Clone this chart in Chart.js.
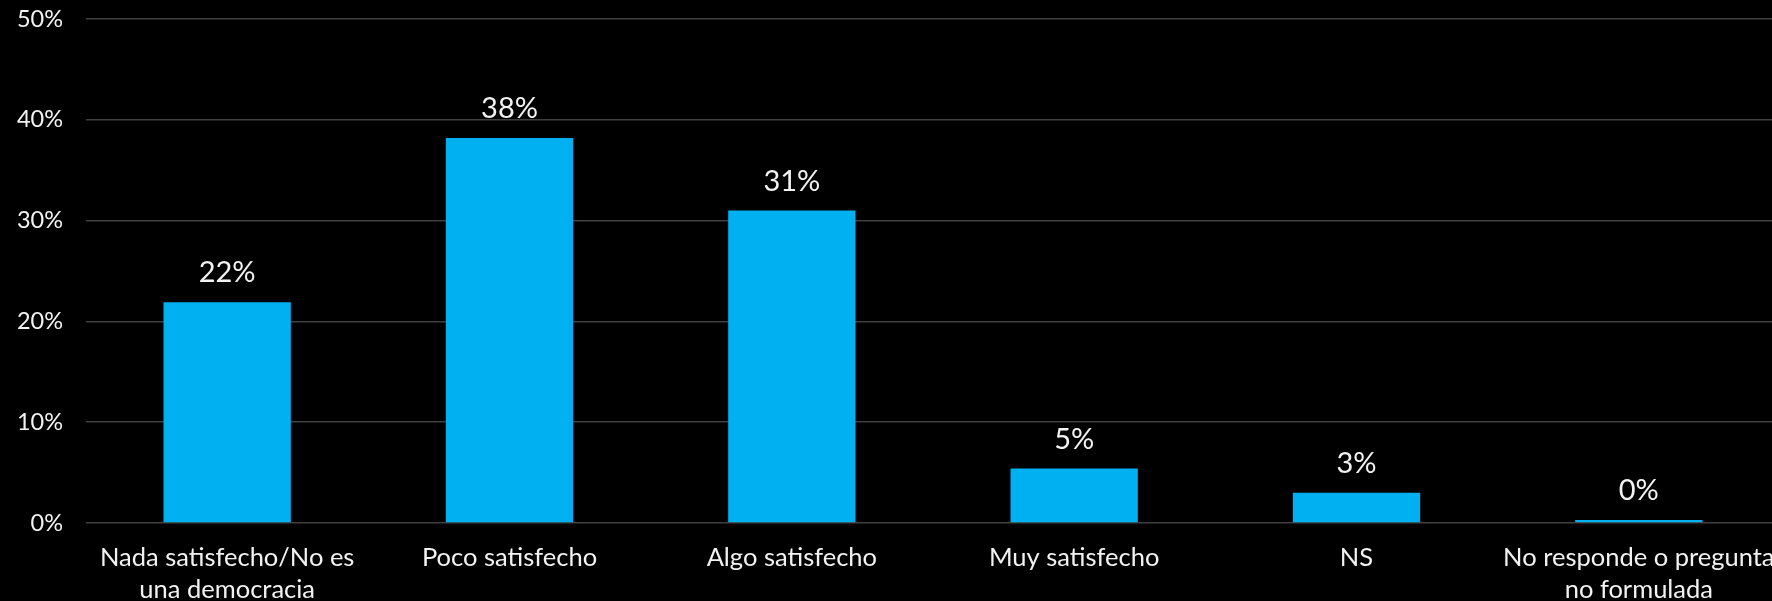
<!DOCTYPE html>
<html>
<head>
<meta charset="utf-8">
<script src="https://cdn.jsdelivr.net/npm/chart.js@4.4.1/dist/chart.umd.min.js"></script>
<style>
  html, body { margin: 0; padding: 0; background: #000; overflow: hidden; }
  #wrap { width: 1772px; height: 601px; }
</style>
</head>
<body>
<div id="wrap"><canvas id="satChart" width="1772" height="601"></canvas></div>
<script>
/* Satisfacción con la democracia */
const categories = [
  ["Nada satisfecho/No es", "una democracia"],
  "Poco satisfecho",
  "Algo satisfecho",
  "Muy satisfecho",
  "NS",
  ["No responde o pregunta", "no formulada"]
];
const values = [21.9, 38.2, 31.0, 5.4, 3.0, 0.3];
const valueLabels = ["22%", "38%", "31%", "5%", "3%", "0%"];
const yTicks = [0, 10, 20, 30, 40, 50];

const FONT = "Lato, 'Open Sans', sans-serif";
const TEXT = "#f2f2f2";
const OVERHANG = 8; // plot runs a little past the right edge, like the original slide

/* stretch the plot past the canvas edge */
const overhang = {
  id: "overhang",
  afterLayout(chart) {
    const x = chart.scales.x;
    chart.chartArea.right += OVERHANG;
    chart.chartArea.width += OVERHANG;
    x.right += OVERHANG;
    x.width += OVERHANG;
    x.configure();
  }
};

/* labels above bars */
const barLabels = {
  id: "barLabels",
  afterDatasetsDraw(chart) {
    const { ctx } = chart;
    const meta = chart.getDatasetMeta(0);
    ctx.save();
    ctx.font = "29px " + FONT;
    ctx.fillStyle = TEXT;
    ctx.textAlign = "center";
    ctx.textBaseline = "alphabetic";
    meta.data.forEach((bar, i) => {
      ctx.fillText(valueLabels[i], bar.x, bar.y - 20);
    });
    ctx.restore();
  }
};

const ctx = document.getElementById("satChart").getContext("2d");

new Chart(ctx, {
  type: "bar",
  data: {
    labels: categories,
    datasets: [{
      data: values,
      backgroundColor: "#00b0f0",
      borderWidth: 0,
      categoryPercentage: 0.451,
      barPercentage: 1
    }]
  },
  options: {
    responsive: false,
    animation: false,
    layout: { padding: { top: 19, left: 0, right: 0, bottom: 0 } },
    plugins: {
      legend: { display: false },
      tooltip: { enabled: false }
    },
    scales: {
      x: {
        grid: { display: false, drawTicks: false },
        border: { display: false },
        ticks: {
          color: TEXT,
          font: { family: FONT, size: 25.5, lineHeight: 1.26 },
          padding: 19,
          maxRotation: 0,
          autoSkip: false
        },
        afterFit(scale) {
          scale.height = 78;
          scale.paddingLeft = 0;
          scale.paddingRight = 0;
        }
      },
      y: {
        min: 0,
        max: 50,
        afterBuildTicks(scale) {
          scale.ticks = yTicks.map(v => ({ value: v }));
        },
        grid: { color: "#404040", lineWidth: 1.5, drawTicks: false },
        border: { display: false },
        ticks: {
          color: TEXT,
          font: { family: FONT, size: 23.5 },
          padding: 23,
          callback: v => v + "%"
        },
        afterFit(scale) {
          scale.width = 86;
          scale.paddingTop = 0;
          scale.paddingBottom = 0;
        }
      }
    }
  },
  plugins: [overhang, barLabels]
});
</script>
</body>
</html>
